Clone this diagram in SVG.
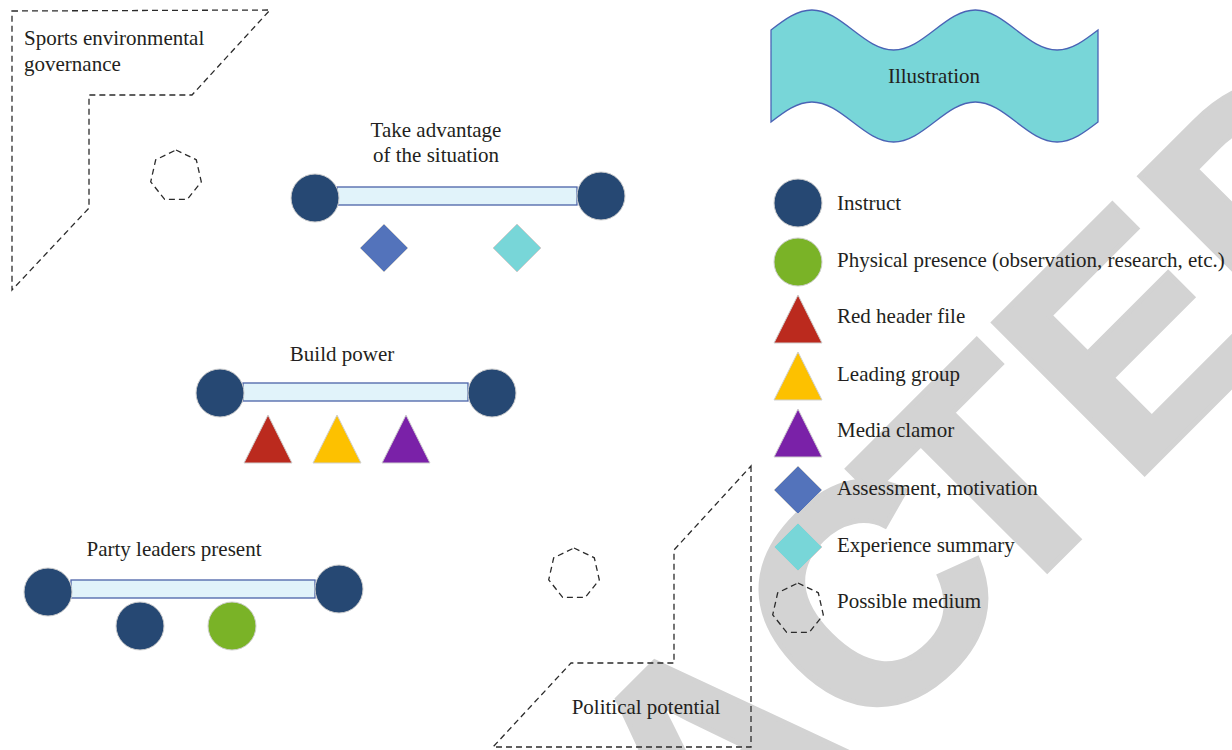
<svg xmlns="http://www.w3.org/2000/svg" width="1232" height="750" viewBox="0 0 1232 750">
<defs>
<style>
.t{font-family:"Liberation Serif","Times New Roman",serif;font-size:21px;fill:#231f20}
.dash{fill:none;stroke:#2b2b2b;stroke-width:1.3;stroke-dasharray:6 4}
.navy{fill:#264873;stroke:#cfcfcf;stroke-width:1}
.green{fill:#7ab327;stroke:#cfcfcf;stroke-width:1}
.red{fill:#bb2a1e;stroke:#cfcfcf;stroke-width:1}
.yellow{fill:#fdc100;stroke:#cfcfcf;stroke-width:1}
.purple{fill:#7a21a8;stroke:#cfcfcf;stroke-width:1}
.blue{fill:#5373bb;stroke:#cfcfcf;stroke-width:1}
.cyan{fill:#78d6d8;stroke:#cfcfcf;stroke-width:1}
.bar{fill:#e1f3fa;stroke:#4b63a8;stroke-width:1.3}
.wm{font-family:"Liberation Sans",Arial,sans-serif;font-weight:bold;font-size:310px;fill:#d3d3d3;stroke:#d3d3d3;stroke-width:5;stroke-linejoin:miter}
</style>
<polygon id="hept" points="0,-26 20.3,-16.2 25.3,5.8 11.3,23.4 -11.3,23.4 -25.3,5.8 -20.3,-16.2"/>
<polygon id="tri" points="0,-24 24,24 -24,24"/>
<polygon id="dia" points="0,-24 24,0 0,24 -24,0"/>
</defs>
<rect width="1232" height="750" fill="#ffffff"/>
<g id="watermark">
<text class="wm" transform="translate(1063,555) rotate(-45)" x="-1346.2 -1122.4 -915.6 -726.2 -502.4 -278.6 -94.7 94.7 301.5" y="0">RETRACTED</text>
</g>
<g id="connectors">
<rect class="bar" x="337" y="187" width="240" height="18"/>
<rect class="bar" x="243" y="383" width="225" height="18"/>
<rect class="bar" x="71" y="580" width="244" height="18"/>
</g>
<g id="sports-environmental-governance">
<polygon class="dash" points="12,11 270,10 192,95 89,95 89,208 12,290"/>
<text class="t" x="24" y="45">Sports environmental</text>
<text class="t" x="24" y="71">governance</text>
</g>
<g id="medium-1"><use href="#hept" class="dash" x="176" y="176"/></g>
<g id="medium-2"><use href="#hept" class="dash" x="574" y="574"/></g>
<g id="political-potential">
<polygon class="dash" points="751,466 751,747 493,747 571,663 674,663 674,550"/>
<text class="t" x="646" y="714" text-anchor="middle">Political potential</text>
</g>
<g id="take-advantage">
<text class="t" x="436" y="137" text-anchor="middle">Take advantage</text>
<text class="t" x="436" y="162" text-anchor="middle">of the situation</text>
<circle class="navy" cx="315" cy="198" r="24"/>
<circle class="navy" cx="601" cy="196" r="24"/>
<use href="#dia" class="blue" x="384" y="248"/>
<use href="#dia" class="cyan" x="517" y="248"/>
</g>
<g id="build-power">
<text class="t" x="342" y="361" text-anchor="middle">Build power</text>
<circle class="navy" cx="220" cy="393" r="24"/>
<circle class="navy" cx="492" cy="393" r="24"/>
<use href="#tri" class="red" x="268" y="439"/>
<use href="#tri" class="yellow" x="337" y="439"/>
<use href="#tri" class="purple" x="406" y="439"/>
</g>
<g id="party-leaders">
<text class="t" x="174" y="556" text-anchor="middle">Party leaders present</text>
<circle class="navy" cx="48" cy="592" r="24"/>
<circle class="navy" cx="339" cy="589" r="24"/>
<circle class="navy" cx="140" cy="626" r="24"/>
<circle class="green" cx="232" cy="626" r="24"/>
</g>
<g id="illustration">
<path fill="#78d6d8" stroke="#4a63b5" stroke-width="1.3" d="M771,30 c13.33,-10.25 26.08,-20 40.875,-20 c14.795,0 27.545,9.75 40.875,20 c13.33,10.25 26.08,20 40.875,20 c14.795,0 27.545,-9.75 40.875,-20 c13.33,-10.25 26.08,-20 40.875,-20 c14.795,0 27.545,9.75 40.875,20 c13.33,10.25 26.08,20 40.875,20 c14.795,0 27.545,-9.75 40.875,-20 L1098,122 c-13.33,10.25 -26.08,20 -40.875,20 c-14.795,0 -27.545,-9.75 -40.875,-20 c-13.33,-10.25 -26.08,-20 -40.875,-20 c-14.795,0 -27.545,9.75 -40.875,20 c-13.33,10.25 -26.08,20 -40.875,20 c-14.795,0 -27.545,-9.75 -40.875,-20 c-13.33,-10.25 -26.08,-20 -40.875,-20 c-14.795,0 -27.545,9.75 -40.875,20 Z"/>
<text class="t" x="934" y="83" text-anchor="middle">Illustration</text>
</g>
<g id="legend">
<circle class="navy" cx="798" cy="203" r="24"/>
<text class="t" x="837" y="210">Instruct</text>
<circle class="green" cx="798" cy="262" r="24"/>
<text class="t" x="837" y="267">Physical presence (observation, research, etc.)</text>
<use href="#tri" class="red" x="798" y="319"/>
<text class="t" x="837" y="323">Red header file</text>
<use href="#tri" class="yellow" x="798" y="376"/>
<text class="t" x="837" y="381">Leading group</text>
<use href="#tri" class="purple" x="798" y="433"/>
<text class="t" x="837" y="437">Media clamor</text>
<use href="#dia" class="blue" x="798" y="490"/>
<text class="t" x="837" y="495">Assessment, motivation</text>
<use href="#dia" class="cyan" x="798" y="547"/>
<text class="t" x="837" y="552">Experience summary</text>
<use href="#hept" class="dash" x="798" y="609"/>
<text class="t" x="837" y="608">Possible medium</text>
</g>
</svg>
